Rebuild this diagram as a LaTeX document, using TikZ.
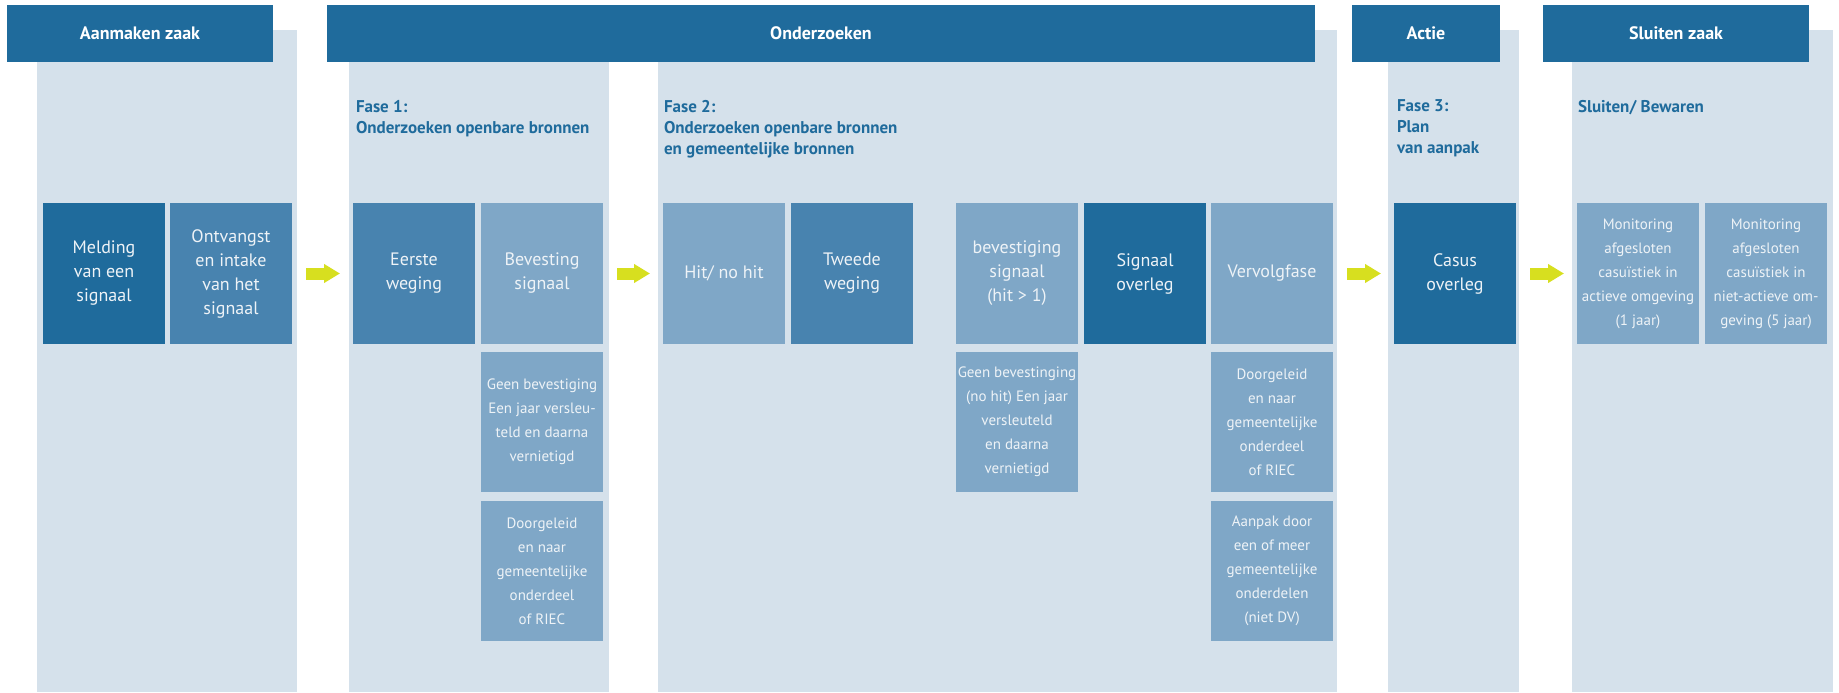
\documentclass[tikz,border=0pt]{standalone}
\usepackage{fontspec}
\setmainfont{PT Sans}
\usepackage{xcolor}
\usepackage{tikz}
\usetikzlibrary{arrows.meta}

\definecolor{kop}{HTML}{1F6B9C}
\definecolor{vlak}{HTML}{D5E1EB}
\definecolor{midden}{HTML}{4883AF}
\definecolor{licht}{HTML}{7FA7C7}
\definecolor{geel}{HTML}{D7DF1F}
\definecolor{tekst}{HTML}{EEF3F7}

\begin{document}
\begin{tikzpicture}[x=1pt,y=-1pt,
  every node/.style={inner sep=0pt,outer sep=0pt,align=center},
  kopbalk/.style={anchor=north west,fill=kop,text=white,minimum height=57pt,font=\bfseries\fontsize{18}{22}\selectfont},
  blok/.style={anchor=north west,minimum width=122pt,minimum height=141pt,text=tekst,font=\fontsize{18}{24}\selectfont},
  klein/.style={blok,minimum height=140pt,font=\fontsize{15}{24}\selectfont},
  fase/.style={anchor=north west,align=left,text=kop,font=\bfseries\fontsize{17}{21}\selectfont},
  pijl/.style={draw=geel,line width=12pt,-{Triangle[length=16pt,width=18pt]},shorten <=14pt,shorten >=13pt}]

\useasboundingbox (0,0) rectangle (1839,693);

\pgfmathsetmacro{\RijA}{203}
\pgfmathsetmacro{\RijB}{352}
\pgfmathsetmacro{\RijC}{501}
\pgfmathsetmacro{\Onder}{692}

% background columns
\fill[vlak] (37,30) rectangle (297,\Onder);
\fill[vlak] (349,30) rectangle (609,\Onder);
\fill[vlak] (658,30) rectangle (1337,\Onder);
\fill[vlak] (1388,30) rectangle (1519,\Onder);
\fill[vlak] (1572,30) rectangle (1833,\Onder);

% header bars
\draw (7,5) node (aanmaken) [kopbalk,minimum width=266pt] {Aanmaken zaak};
\draw (327,5) node (onderzoeken) [kopbalk,minimum width=988pt] {Onderzoeken};
\draw (1352,5) node (actie) [kopbalk,minimum width=148pt] {Actie};
\draw (1543,5) node (sluiten) [kopbalk,minimum width=266pt] {Sluiten zaak};

% phase titles
\draw (356,100) node (faseA) [fase] {Fase 1:\\Onderzoeken openbare bronnen};
\draw (664,100) node (faseB) [fase] {Fase 2:\\Onderzoeken openbare bronnen\\en gemeentelijke bronnen};
\draw (1397,100) node (faseC) [fase] {Fase 3:\\Plan\\van aanpak};
\draw (1578,100) node (faseD) [fase] {Sluiten/ Bewaren};

% first row
\draw (43,\RijA) node (melding) [blok,fill=kop] {Melding\\van een\\signaal};
\draw (170,\RijA) node (ontvangst) [blok,fill=midden] {Ontvangst\\en intake\\van het\\signaal};
\draw (353,\RijA) node (eerste) [blok,fill=midden] {Eerste\\weging};
\draw (481,\RijA) node (bevesting) [blok,fill=licht] {Bevesting\\signaal};
\draw (663,\RijA) node (hit) [blok,fill=licht] {Hit/ no hit};
\draw (791,\RijA) node (tweede) [blok,fill=midden] {Tweede\\weging};
\draw (956,\RijA) node (bevestiging) [blok,fill=licht] {bevestiging\\signaal\\(hit > 1)};
\draw (1084,\RijA) node (overleg) [blok,fill=kop] {Signaal\\overleg};
\draw (1211,\RijA) node (vervolg) [blok,fill=licht] {Vervolgfase};
\draw (1394,\RijA) node (casus) [blok,fill=kop] {Casus\\overleg};
\draw (1577,\RijA) node (monitorA) [klein,minimum height=141pt,fill=licht] {Monitoring\\afgesloten\\casuïstiek in\\actieve omgeving\\(1 jaar)};
\draw (1705,\RijA) node (monitorB) [klein,minimum height=141pt,fill=licht] {Monitoring\\afgesloten\\casuïstiek in\\niet-actieve om-\\geving (5 jaar)};

% second row
\draw (481,\RijB) node (geenA) [klein,fill=licht] {Geen bevestiging\\Een jaar versleu-\\teld en daarna\\vernietigd};
\draw (956,\RijB) node (geenB) [klein,fill=licht] {Geen bevestinging\\(no hit) Een jaar\\versleuteld\\en daarna\\vernietigd};
\draw (1211,\RijB) node (doorB) [klein,fill=licht] {Doorgeleid\\en naar\\gemeentelijke\\onderdeel\\of RIEC};

% third row
\draw (481,\RijC) node (doorA) [klein,fill=licht] {Doorgeleid\\en naar\\gemeentelijke\\onderdeel\\of RIEC};
\draw (1211,\RijC) node (aanpak) [klein,fill=licht] {Aanpak door\\een of meer\\gemeentelijke\\onderdelen\\(niet DV)};

% arrows between the stages
\draw[pijl] (ontvangst) -- (eerste);
\draw[pijl] (bevesting) -- (hit);
\draw[pijl] (vervolg) -- (casus);
\draw[pijl] (casus) -- (monitorA);
\end{tikzpicture}
\end{document}
